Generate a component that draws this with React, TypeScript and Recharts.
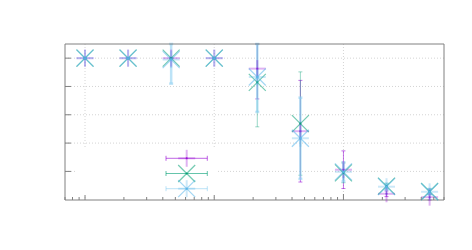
import { CartesianGrid, ErrorBar, Legend, Scatter, ScatterChart, XAxis, YAxis } from "recharts";

// x positions (log scale)
const xValues = [1, 2.154, 4.642, 10, 21.54, 46.42, 100, 215.4, 464.2];

const purpleY = [1, 1, 1, 1, 0.926, 0.484, 0.212, 0.042, 0.018];
const purpleErr = [0, 0, 0, 0, 0.214, 0.359, 0.133, 0.02, 0.02];
const greenY = [1, 1, 1, 1, 0.829, 0.538, 0.19, 0.096, 0.058];
const greenErr = [0, 0, 0, 0, 0.314, 0.365, 0.07, 0.02, 0.02];
const blueY = [1, 1, 0.99, 1, 0.867, 0.434, 0.197, 0.092, 0.056];
const blueErr = [0, 0, 0.17, 0, 0.247, 0.287, 0.068, 0.02, 0.02];

const xDomain = [0.7, 600];
const yDomain = [0, 1.1];
const xMajorTicks = [1, 10, 100];
const xTicks = [
  0.7, 0.8, 0.9, 1, 2, 3, 4, 5, 6, 7, 8, 9, 10, 20, 30, 40, 50, 60, 70, 80, 90, 100, 200, 300, 400, 500, 600,
];
const yTicks = [0.2, 0.4, 0.6, 0.8, 1.0];

const FRAME = "#808080";
const GRID = "#d4d4d4";

type Glyph = "plus" | "cross" | "star";

interface Series {
  name: string;
  color: string;
  glyph: Glyph;
  barWidth: number;
  barOpacity: number;
  rows: { x: number; y: number; err: number[] }[];
}

// the upper half of a bar stops at the frame, like gnuplot's clipping
const makeRows = (ys: number[], errs: number[]) =>
  xValues.map((x, i) => ({
    x,
    y: ys[i],
    err: [errs[i], Math.max(0, Math.min(errs[i], yDomain[1] - ys[i]))],
  }));

const SERIES: Series[] = [
  { name: "a", color: "#9400d3", glyph: "plus", barWidth: 1, barOpacity: 0.55, rows: makeRows(purpleY, purpleErr) },
  { name: "b", color: "#009e73", glyph: "cross", barWidth: 1, barOpacity: 0.4, rows: makeRows(greenY, greenErr) },
  { name: "c", color: "#8fd0f2", glyph: "star", barWidth: 2.5, barOpacity: 0.6, rows: makeRows(blueY, blueErr) },
];

const R = 8.5;

function GlyphMark({ cx, cy, glyph, color }: { cx: number; cy: number; glyph: Glyph; color: string }) {
  const plus = glyph === "plus" || glyph === "star";
  const cross = glyph === "cross" || glyph === "star";
  return (
    <g stroke={color} strokeWidth={1.2} strokeOpacity={0.55} fill="none">
      {plus && (
        <>
          <line x1={cx - R} y1={cy} x2={cx + R} y2={cy} strokeWidth={2} strokeOpacity={0.3} />
          <line x1={cx} y1={cy - R} x2={cx} y2={cy + R} strokeWidth={2} strokeOpacity={0.3} />
        </>
      )}
      {cross && (
        <>
          <line x1={cx - R} y1={cy - R} x2={cx + R} y2={cy + R} />
          <line x1={cx - R} y1={cy + R} x2={cx + R} y2={cy - R} />
        </>
      )}
      <circle cx={cx} cy={cy} r={1} fill={color} stroke="none" fillOpacity={0.8} />
    </g>
  );
}

const renderNothing = () => <g />;

// tick marks drawn inward, gnuplot style
const xTick = (dir: 1 | -1) => (props: any) => {
  const { x, y, payload } = props;
  const len = xMajorTicks.includes(payload.value) ? 6 : 3;
  return <line x1={x} y1={y} x2={x} y2={y + dir * len} stroke={FRAME} />;
};
const yTick = (dir: 1 | -1) => (props: any) => {
  const { x, y } = props;
  return <line x1={x} y1={y} x2={x + dir * 6} y2={y} stroke={FRAME} />;
};

function KeyBox() {
  const left = 91;
  const right = 132.3;
  const mid = 111.7;
  return (
    <svg width={142} height={46} style={{ display: "block", overflow: "visible" }}>
      <rect width={142} height={46} fill="#fff" />
      {SERIES.map((s, i) => {
        const cy = 9.3 + i * 15.2;
        const glyphColor = s.glyph === "star" ? "#56b4e9" : s.color;
        return (
          <g key={s.name}>
            <g stroke={s.color} strokeWidth={1} strokeOpacity={0.6}>
              <line x1={left} y1={cy} x2={right} y2={cy} />
              <line x1={left} y1={cy - 2.5} x2={left} y2={cy + 2.5} />
              <line x1={right} y1={cy - 2.5} x2={right} y2={cy + 2.5} />
            </g>
            <GlyphMark cx={mid} cy={cy} glyph={s.glyph} color={glyphColor} />
          </g>
        );
      })}
    </svg>
  );
}

const axisCommon = {
  type: "number" as const,
  interval: 0 as const,
  tickSize: 0,
  tickMargin: 0,
  tickLine: false,
  axisLine: { stroke: FRAME },
};

export default function App() {
  return (
    <ScatterChart width={456} height={234} margin={{ top: 35, right: 19, bottom: 41, left: 56 }}>
      <XAxis
        {...axisCommon}
        xAxisId="x"
        dataKey="x"
        scale="log"
        domain={xDomain}
        ticks={xTicks}
        height={1}
        tick={xTick(-1)}
      />
      <XAxis
        {...axisCommon}
        xAxisId="xt"
        orientation="top"
        dataKey="x"
        scale="log"
        domain={xDomain}
        ticks={xTicks}
        height={1}
        tick={xTick(1)}
      />
      <YAxis {...axisCommon} yAxisId="y" dataKey="y" domain={yDomain} ticks={yTicks} width={1} tick={yTick(1)} />
      <YAxis
        {...axisCommon}
        yAxisId="yr"
        orientation="right"
        dataKey="y"
        domain={yDomain}
        ticks={yTicks}
        width={1}
        tick={yTick(-1)}
      />
      <CartesianGrid
        xAxisId="x"
        yAxisId="y"
        verticalValues={xMajorTicks}
        horizontalValues={yTicks}
        stroke={GRID}
        strokeDasharray="1 2"
      />
      {SERIES.map((s) => [
        <Scatter
          key={s.name + "-err"}
          data={s.rows}
          xAxisId="x"
          yAxisId="y"
          shape={renderNothing}
          isAnimationActive={false}
        >
          <ErrorBar
            dataKey="err"
            direction="y"
            width={2}
            stroke={s.color}
            strokeWidth={s.barWidth}
            strokeOpacity={s.barOpacity}
            isAnimationActive={false}
          />
        </Scatter>,
        <Scatter
          key={s.name}
          data={s.rows}
          xAxisId="x"
          yAxisId="y"
          isAnimationActive={false}
          shape={(p: any) => (
            <GlyphMark cx={p.cx} cy={p.cy} glyph={s.glyph} color={s.glyph === "star" ? "#56b4e9" : s.color} />
          )}
        />,
      ])}
      <Legend
        layout="vertical"
        align="center"
        verticalAlign="middle"
        content={KeyBox}
        wrapperStyle={{ left: 67, top: 141, width: 142, height: 46 }}
      />
    </ScatterChart>
  );
}
